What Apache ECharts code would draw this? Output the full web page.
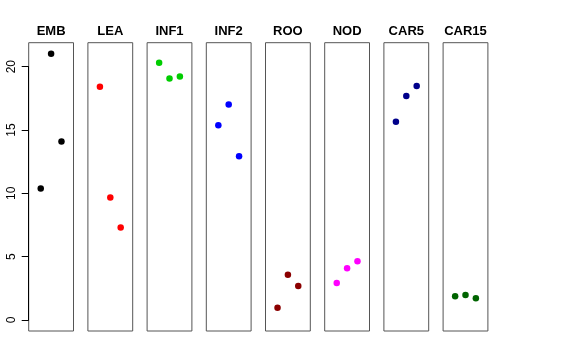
<!DOCTYPE html>
<html>
<head>
<meta charset="utf-8">
<script src="https://cdn.jsdelivr.net/npm/echarts@6/dist/echarts.min.js"></script>
<style>html,body{margin:0;padding:0;background:#fff;}#c{width:576px;height:360px;}</style>
</head>
<body>
<div id="c"></div>
<script>
const categories = ['EMB', 'LEA', 'INF1', 'INF2', 'ROO', 'NOD', 'CAR5', 'CAR15'];
const xPositions = [1, 2, 3];
const EMB = [10.39, 21.02, 14.10];
const LEA = [18.42, 9.68, 7.32];
const INF1 = [20.31, 19.07, 19.23];
const INF2 = [15.39, 17.02, 12.94];
const ROO = [1.00, 3.60, 2.71];
const NOD = [2.95, 4.10, 4.66];
const CAR5 = [15.65, 17.68, 18.47];
const CAR15 = [1.89, 2.00, 1.74];
const seriesValues = [EMB, LEA, INF1, INF2, ROO, NOD, CAR5, CAR15];
const colors = ['#000000', '#FF0000', '#00CD00', '#0000FF', '#8B0000', '#FF00FF', '#00008B', '#006400'];
const yTicks = [0, 5, 10, 15, 20];

const panelLeft0 = 28.7, panelPitch = 59.2, panelW = 44.8;
const panelTop = 42.7, panelH = 288.3;
const yMin = -0.84, yMax = 21.89;

const grids = [], xAxes = [], yAxes = [], series = [], titles = [];
categories.forEach((cat, i) => {
  const left = panelLeft0 + panelPitch * i;
  grids.push({
    left: left, top: panelTop, width: panelW, height: panelH,
    show: true, borderColor: '#555', borderWidth: 1, backgroundColor: 'transparent'
  });
  xAxes.push({ gridIndex: i, type: 'value', min: -0.16, max: 4.16, show: false });
  yAxes.push({ gridIndex: i, type: 'value', min: yMin, max: yMax, show: false });
  series.push({
    type: 'scatter', xAxisIndex: i, yAxisIndex: i,
    data: seriesValues[i].map((v, k) => [xPositions[k], v]),
    symbol: 'circle', symbolSize: 6.5,
    itemStyle: { color: colors[i], opacity: 1 },
    silent: true
  });
  titles.push({
    text: cat, left: left + panelW / 2, top: 25, textAlign: 'center', padding: 0,
    textStyle: { fontFamily: 'Liberation Sans, Arial, sans-serif', fontWeight: 'bold', fontSize: 13, color: '#000' }
  });
});

// Left axis: spans 0..20 only, like R's axis()
const ai = categories.length;
grids.push({ left: panelLeft0, top: 66.7, width: 1, height: 253.3, show: false });
xAxes.push({ gridIndex: ai, type: 'value', show: false });
yAxes.push({
  gridIndex: ai, type: 'value', min: yTicks[0], max: yTicks[yTicks.length - 1], interval: 5,
  position: 'left',
  axisLine: { show: true, lineStyle: { color: '#000', width: 1 } },
  axisTick: { show: true, length: 7, lineStyle: { color: '#000', width: 1 } },
  splitLine: { show: false },
  axisLabel: { rotate: 90, margin: 11, fontSize: 12, color: '#000', fontFamily: 'Liberation Sans, Arial, sans-serif' }
});

const chart = echarts.init(document.getElementById('c'), null, { renderer: 'canvas' });
chart.setOption({
  animation: false,
  backgroundColor: '#fff',
  title: titles,
  grid: grids,
  xAxis: xAxes,
  yAxis: yAxes,
  series: series
});
</script>
</body>
</html>
